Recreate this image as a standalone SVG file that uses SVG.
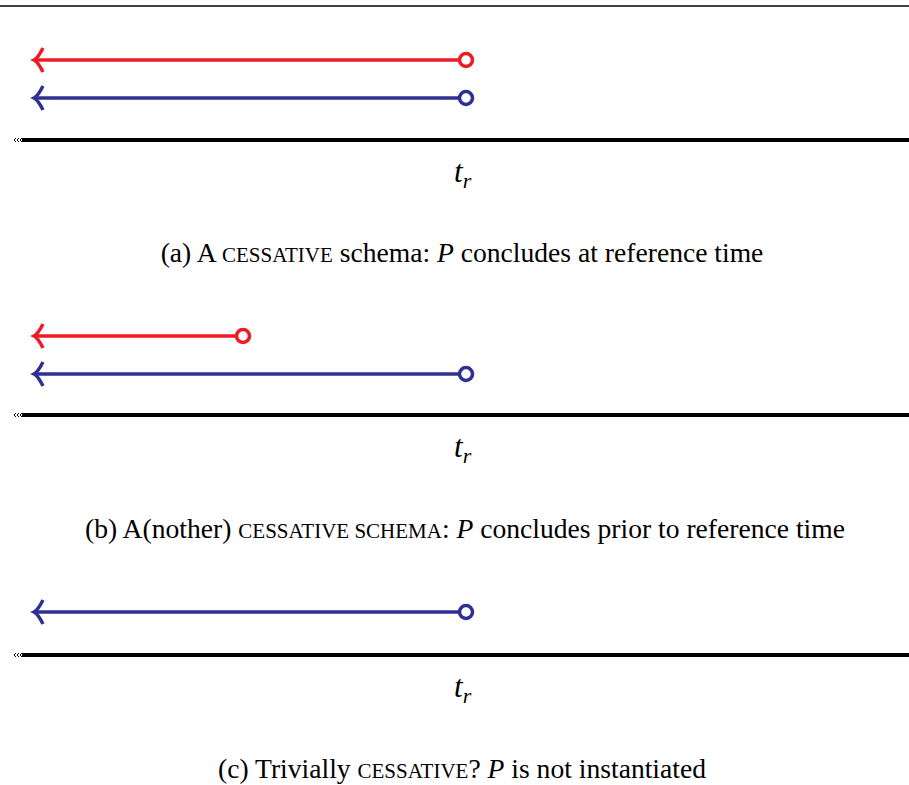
<svg xmlns="http://www.w3.org/2000/svg" width="909" height="785" viewBox="0 0 909 785">
<style>
.red{stroke:#ed1c24;stroke-width:3.5;fill:none}
.blue{stroke:#2e3192;stroke-width:3.5;fill:none}
.circ{fill:#fff;stroke-width:3.5}
.axis{stroke:#000;stroke-width:4;fill:none}
.tick{stroke:#000;stroke-width:1;fill:none}
.tr{font-style:italic;font-size:31px;fill:#000}
.sub{font-size:22px}
.cap{font-size:27.6px;fill:#000}
.sc{font-size:21px}
.it{font-style:italic}
</style>
<defs>
<path id="head" d="M43,-12 Q38,-2 34,0 Q38,2 43,12"/>
<g id="ticks"><path class="tick" d="M16,-2 L14,0 L16,2 M19,-2 L17,0 L19,2 M22,-2 L20,0 L22,2"/></g>
</defs>
<line x1="0" y1="6" x2="909" y2="6" stroke="#000" stroke-width="1.5"/>
<g id="connectors">
<g id="a-red"><line class="red" x1="35" y1="60" x2="459" y2="60"/><use href="#head" class="red" transform="translate(0,60)"/></g>
<g id="a-blue"><line class="blue" x1="35" y1="98" x2="459" y2="98"/><use href="#head" class="blue" transform="translate(0,98)"/></g>
<g id="b-red"><line class="red" x1="35" y1="336" x2="236" y2="336"/><use href="#head" class="red" transform="translate(0,336)"/></g>
<g id="b-blue"><line class="blue" x1="35" y1="374" x2="459" y2="374"/><use href="#head" class="blue" transform="translate(0,374)"/></g>
<g id="c-blue"><line class="blue" x1="35" y1="612" x2="459" y2="612"/><use href="#head" class="blue" transform="translate(0,612)"/></g>
</g>
<g id="a-end-red"><circle class="circ" stroke="#ed1c24" cx="466" cy="60" r="6.5"/></g>
<g id="a-end-blue"><circle class="circ" stroke="#2e3192" cx="466" cy="98" r="6.5"/></g>
<g id="b-end-red"><circle class="circ" stroke="#ed1c24" cx="243" cy="336" r="6.5"/></g>
<g id="b-end-blue"><circle class="circ" stroke="#2e3192" cx="466" cy="374" r="6.5"/></g>
<g id="c-end-blue"><circle class="circ" stroke="#2e3192" cx="466" cy="612" r="6.5"/></g>
<g id="axis-a"><line class="axis" x1="22" y1="140" x2="909" y2="140"/><use href="#ticks" transform="translate(0,140)"/></g>
<g id="axis-b"><line class="axis" x1="22" y1="415" x2="909" y2="415"/><use href="#ticks" transform="translate(0,415)"/></g>
<g id="axis-c"><line class="axis" x1="22" y1="655" x2="909" y2="655"/><use href="#ticks" transform="translate(0,655)"/></g>
<g font-family="'Liberation Serif', 'Times New Roman', serif">
<text class="tr" x="454" y="182">t<tspan class="sub" dy="6">r</tspan></text>
<text class="tr" x="454" y="457">t<tspan class="sub" dy="6">r</tspan></text>
<text class="tr" x="454" y="697">t<tspan class="sub" dy="6">r</tspan></text>
<text class="cap" x="462" y="262" text-anchor="middle">(a) A <tspan class="sc">CESSATIVE</tspan> schema: <tspan class="it">P</tspan> concludes at reference time</text>
<text class="cap" x="465" y="538" text-anchor="middle">(b) A(nother) <tspan class="sc">CESSATIVE SCHEMA</tspan>: <tspan class="it">P</tspan> concludes prior to reference time</text>
<text class="cap" x="462" y="778" text-anchor="middle">(c) Trivially <tspan class="sc">CESSATIVE</tspan>? <tspan class="it">P</tspan> is not instantiated</text>
</g>
</svg>
